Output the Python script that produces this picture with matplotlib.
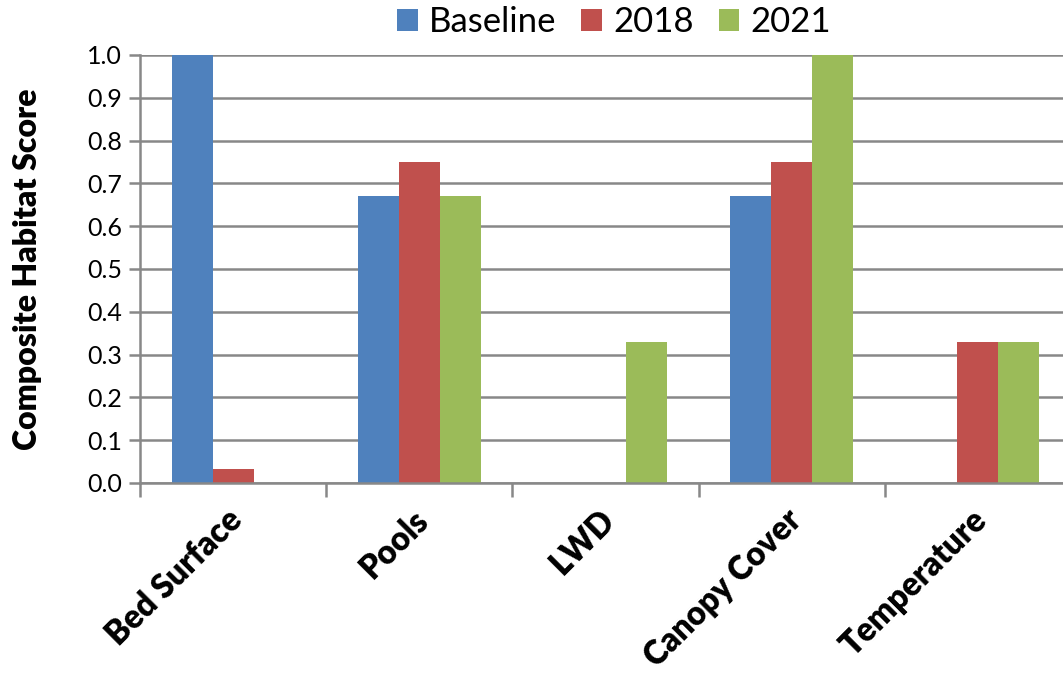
import matplotlib
matplotlib.use("Agg")
import matplotlib.pyplot as plt
import matplotlib.transforms as mtransforms
import numpy as np
from matplotlib.ticker import FixedLocator, FormatStrFormatter

categories = ["Bed Surface", "Pools", "LWD", "Canopy Cover", "Temperature"]
series_names = ["Baseline", "2018", "2021"]
baseline = [1.0, 0.67, 0.0, 0.67, 0.0]
y2018 = [0.033, 0.75, 0.0, 0.75, 0.33]
y2021 = [0.0, 0.67, 0.33, 1.0, 0.33]
colors = ["#4F81BD", "#C0504D", "#9BBB59"]

plt.rcParams['font.family'] = ['Lato', 'DejaVu Sans']

fig = plt.figure(figsize=(10.63, 6.79), dpi=100)
W, H = 1063, 679
left, right, top, bottom = 140, 1071, 55, 483
ax = fig.add_axes([left / W, (H - bottom) / H, (right - left) / W, (bottom - top) / H])

x = np.arange(len(categories))
bw = 0.22
for i, (vals, name) in enumerate(zip([baseline, y2018, y2021], series_names)):
    ax.bar(x + (i - 1) * bw, vals, width=bw, color=colors[i], label=name, zorder=3,
           linewidth=0)

ax.set_xlim(-0.5, len(categories) - 0.5)
ax.set_ylim(0, 1.0)
ax.yaxis.set_major_locator(FixedLocator(np.round(np.arange(0, 1.01, 0.1), 1)))
ax.yaxis.set_major_formatter(FormatStrFormatter('%.1f'))
ax.grid(axis='y', color='#888888', linewidth=1.8, zorder=0)
ax.set_axisbelow(True)

ax.set_xticks(np.arange(-0.5, len(categories), 1.0))
ax.set_xticklabels([])
ax.set_xticks(x, minor=True)
ax.set_xticklabels(categories, minor=True, rotation=45, ha='right', va='top',
                   rotation_mode='anchor', fontsize=23.5, fontweight='heavy')
ax.tick_params(axis='x', which='minor', length=0, pad=15)
ax.tick_params(axis='x', which='major', length=10, width=1.8, color='#888888', direction='out')
ax.tick_params(axis='y', length=8, width=1.8, color='#888888', direction='out', labelsize=18, pad=5)

offset = mtransforms.ScaledTranslation(-7 / 100, 0, fig.dpi_scale_trans)
for lbl in ax.xaxis.get_minorticklabels():
    lbl.set_transform(lbl.get_transform() + offset)

for s in ['top', 'right']:
    ax.spines[s].set_visible(False)
for s in ['left', 'bottom']:
    ax.spines[s].set_color('#888888')
    ax.spines[s].set_linewidth(1.8)
    ax.spines[s].set_zorder(4)

ax.set_ylabel("Composite Habitat Score", fontsize=23, fontweight='heavy')
ax.yaxis.set_label_coords(-(140 - 27) / (right - left), 0.5)
ax.yaxis.label.set_va('center')

leg = fig.legend(loc='center', bbox_to_anchor=(614 / W, 1 - 22 / H), ncol=3, frameon=False,
                 fontsize=25, handlelength=0.6, handleheight=0.6, columnspacing=0.72,
                 handletextpad=0.32, borderaxespad=0)

fig.savefig("out.png", dpi=100, facecolor='white')
